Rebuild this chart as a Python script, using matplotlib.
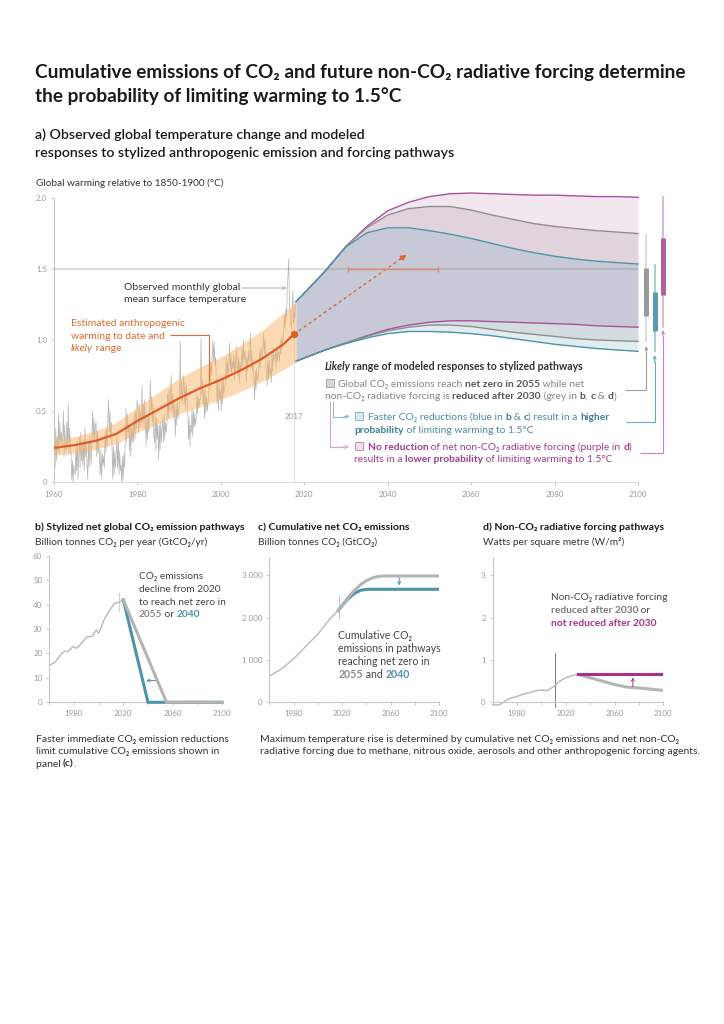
import numpy as np
import matplotlib
matplotlib.use('Agg')
import matplotlib.pyplot as plt
from matplotlib.lines import Line2D
from matplotlib.patches import Rectangle, FancyArrowPatch

# ---------------------------------------------------------------- data
# observed global mean surface temperature, six samples per year (1960-2017)
obs_values = [
    0.45, 0.10, 0.38, 0.15, 0.32, 0.22,   # 1960
    0.48, 0.20, 0.42, 0.28, 0.35, 0.25,
    0.30, 0.50, 0.18, 0.40, 0.25, 0.22,
    0.42, 0.25, 0.55, 0.20, 0.38, 0.28,
    0.20, 0.02, 0.15, -0.02, 0.12, 0.08,
    0.05, 0.25, 0.08, 0.30, 0.02, 0.18,   # 1965
    0.32, 0.10, 0.35, 0.15, 0.28, 0.12,
    0.30, 0.08, 0.38, 0.18, 0.26, 0.12,
    0.02, 0.28, 0.10, 0.32, 0.22, 0.12,
    0.28, 0.50, 0.30, 0.45, 0.28, 0.40,
    0.42, 0.18, 0.36, 0.20, 0.30, 0.15,   # 1970
    0.05, 0.22, 0.02, 0.20, 0.12, 0.18,
    0.10, 0.35, 0.20, 0.38, 0.25, 0.45,
    0.58, 0.35, 0.50, 0.30, 0.42, 0.25,
    0.02, 0.25, 0.05, 0.22, 0.10, 0.20,
    0.32, 0.10, 0.28, 0.05, 0.22, 0.08,   # 1975
    0.12, -0.03, 0.18, 0.02, 0.20, 0.10,
    0.30, 0.52, 0.28, 0.48, 0.35, 0.40,
    0.22, 0.42, 0.18, 0.38, 0.28, 0.40,
    0.28, 0.48, 0.30, 0.50, 0.38, 0.58,
    0.52, 0.35, 0.55, 0.38, 0.50, 0.40,   # 1980
    0.68, 0.42, 0.55, 0.38, 0.58, 0.40,
    0.25, 0.45, 0.30, 0.48, 0.35, 0.52,
    0.72, 0.50, 0.60, 0.42, 0.55, 0.32,
    0.28, 0.48, 0.22, 0.45, 0.30, 0.40,
    0.15, 0.40, 0.22, 0.42, 0.28, 0.38,   # 1985
    0.45, 0.28, 0.48, 0.30, 0.42, 0.35,
    0.42, 0.62, 0.45, 0.65, 0.50, 0.58,
    0.75, 0.50, 0.62, 0.45, 0.58, 0.48,
    0.32, 0.55, 0.40, 0.58, 0.45, 0.50,
    0.55, 0.99, 0.58, 0.72, 0.55, 0.68,   # 1990
    0.75, 0.55, 0.70, 0.52, 0.68, 0.58,
    0.50, 0.30, 0.45, 0.25, 0.40, 0.35,
    0.52, 0.32, 0.50, 0.38, 0.48, 0.40,
    0.45, 0.62, 0.48, 0.60, 0.52, 0.58,
    0.58, 1.01, 0.62, 0.72, 0.55, 0.65,   # 1995
    0.45, 0.65, 0.48, 0.60, 0.50, 0.55,
    0.62, 0.78, 0.65, 0.85, 0.75, 0.90,
    1.00, 0.85, 0.98, 0.82, 0.88, 0.72,
    0.55, 0.72, 0.50, 0.70, 0.58, 0.65,
    0.50, 0.75, 0.55, 0.72, 0.62, 0.68,   # 2000
    0.68, 0.88, 0.72, 0.85, 0.75, 0.82,
    0.98, 0.78, 0.90, 0.75, 0.85, 0.80,
    0.90, 0.72, 0.88, 0.78, 0.95, 0.85,
    0.75, 0.88, 0.70, 0.85, 0.78, 0.82,
    0.95, 0.82, 1.00, 0.85, 0.92, 0.88,   # 2005
    0.70, 0.88, 0.78, 0.92, 0.85, 0.90,
    1.05, 0.80, 0.92, 0.78, 0.82, 0.72,
    0.58, 0.78, 0.65, 0.80, 0.72, 0.75,
    0.78, 0.92, 0.80, 0.95, 0.85, 0.88,
    0.95, 1.05, 0.90, 1.00, 0.85, 0.78,   # 2010
    0.68, 0.85, 0.72, 0.88, 0.75, 0.80,
    0.70, 0.90, 0.78, 0.95, 0.85, 0.88,
    0.92, 0.80, 0.95, 0.85, 0.92, 0.90,
    0.85, 1.00, 0.90, 1.02, 0.95, 1.00,
    1.05, 1.18, 1.08, 1.22, 1.15, 1.35,   # 2015
    1.45, 1.57, 1.30, 1.18, 1.12, 1.08,
    1.22, 1.35, 1.12, 1.20, 1.15, 1.25,   # 2017
]
obs_years = 1960 + (np.arange(len(obs_values)) + 0.5) / 6

warm_years = [1960, 1965, 1970, 1975, 1980, 1985, 1990, 1995, 2000, 2005, 2010, 2015, 2018]
warm_mid = [0.24, 0.26, 0.29, 0.34, 0.43, 0.51, 0.59, 0.66, 0.72, 0.79, 0.87, 0.97, 1.05]
warm_hi = [0.30, 0.32, 0.36, 0.42, 0.53, 0.63, 0.73, 0.81, 0.88, 0.97, 1.07, 1.19, 1.27]
warm_lo = [0.19, 0.20, 0.23, 0.27, 0.35, 0.41, 0.48, 0.53, 0.58, 0.64, 0.71, 0.79, 0.85]
year_2017 = 2017.5
warm_2017 = 1.04

fut_years = [2018, 2020, 2025, 2030, 2035, 2040, 2045, 2050, 2055, 2060, 2065, 2070,
             2075, 2080, 2085, 2090, 2095, 2100]
purple_up = [1.27, 1.33, 1.485, 1.66, 1.80, 1.91, 1.97, 2.01, 2.03, 2.035, 2.03, 2.025,
             2.02, 2.02, 2.015, 2.01, 2.01, 2.005]
grey_up = [1.27, 1.33, 1.485, 1.66, 1.79, 1.88, 1.925, 1.94, 1.94, 1.915, 1.88, 1.85,
           1.82, 1.80, 1.785, 1.77, 1.76, 1.75]
blue_up = [1.27, 1.33, 1.485, 1.655, 1.755, 1.79, 1.79, 1.77, 1.745, 1.715, 1.68, 1.645,
           1.615, 1.59, 1.57, 1.555, 1.545, 1.535]
purple_lo = [0.85, 0.873, 0.93, 0.98, 1.03, 1.075, 1.105, 1.125, 1.135, 1.135, 1.13, 1.125,
             1.12, 1.115, 1.11, 1.10, 1.095, 1.09]
grey_lo = [0.85, 0.873, 0.93, 0.98, 1.025, 1.065, 1.09, 1.105, 1.105, 1.095, 1.075, 1.055,
           1.04, 1.025, 1.01, 1.0, 0.995, 0.99]
blue_lo = [0.85, 0.873, 0.93, 0.975, 1.015, 1.045, 1.06, 1.06, 1.055, 1.045, 1.03, 1.01,
           0.99, 0.97, 0.955, 0.94, 0.93, 0.92]

reach_15_years = [2030.4, 2052.1]
arrow_end = (2044.5, 1.60)

# 2100 ranges: (thin low, thin high, thick low, thick high)
bar_grey = (0.99, 1.75, 1.17, 1.505)
bar_blue = (0.92, 1.53, 1.063, 1.336)
bar_purple = (1.094, 2.01, 1.32, 1.72)

# panel b
hist_years = [1960, 1965, 1970, 1973, 1975, 1979, 1982, 1985, 1990, 1995, 1998, 2000,
              2005, 2010, 2013, 2017, 2020]
hist_emis = [15.0, 16.6, 20.0, 21.1, 20.7, 22.8, 22.1, 23.5, 26.6, 27.1, 29.6, 28.2,
             34.4, 38.5, 40.5, 41.1, 41.9]
grey_emis_years = [2020, 2055, 2100]
grey_emis = [41.9, 0, 0]
blue_emis_years = [2020, 2040, 2100]
blue_emis = [41.9, 0, 0]
emis_2017_range = [37.5, 44.8]

# panel c
cum_years = [1960, 1965, 1970, 1975, 1980, 1985, 1990, 1995, 2000, 2005, 2010, 2017]
cum_hist = [615, 700, 790, 905, 1030, 1170, 1320, 1465, 1615, 1790, 1975, 2175]
cum_grey_years = [2017, 2020, 2025, 2030, 2035, 2040, 2045, 2050, 2055, 2100]
cum_grey = [2175, 2290, 2480, 2640, 2775, 2875, 2940, 2975, 2985, 2985]
cum_blue_years = [2017, 2020, 2025, 2030, 2035, 2040, 2100]
cum_blue = [2175, 2290, 2450, 2570, 2645, 2670, 2670]
cum_2017_range = [1995, 2500]

# panel d
frc_years = [1960, 1965, 1968, 1970, 1975, 1980, 1985, 1990, 1995, 2000, 2005, 2010,
             2015, 2020, 2025, 2030]
frc_hist = [-0.06, -0.06, -0.02, 0.03, 0.10, 0.14, 0.19, 0.23, 0.27, 0.29, 0.28, 0.37,
            0.50, 0.58, 0.63, 0.66]
frc_grey_years = [2030, 2040, 2050, 2060, 2070, 2080, 2090, 2100]
frc_grey = [0.66, 0.58, 0.50, 0.42, 0.36, 0.34, 0.31, 0.28]
frc_purple_years = [2030, 2100]
frc_purple = [0.66, 0.66]
frc_2011_range = [-0.1, 1.17]

# ---------------------------------------------------------------- setup
W, H = 724, 1024
FONT = ['Lato', 'DejaVu Sans']
plt.rcParams['font.family'] = FONT
plt.rcParams['axes.linewidth'] = 0.8

fig = plt.figure(figsize=(W / 100, H / 100), dpi=100)
fig.patch.set_facecolor('white')
R = fig.canvas.get_renderer()

def fx(x):
    return x / W

def fy(y):
    return 1 - y / H

def ax_at(l, r, b, t):
    return fig.add_axes([l / W, 1 - b / H, (r - l) / W, (b - t) / H])

_bar = {}
def tw(s, size, weight='normal', style='normal'):
    t = fig.text(0, 0, '|' + s + '|', fontsize=size, fontweight=weight, fontstyle=style)
    w = t.get_window_extent(renderer=R).width
    t.remove()
    key = (size, weight, style)
    if key not in _bar:
        t = fig.text(0, 0, '||', fontsize=size, fontweight=weight, fontstyle=style)
        _bar[key] = t.get_window_extent(renderer=R).width
        t.remove()
    return w - _bar[key]

def seg_norm(seg):
    s = seg[0]
    color = seg[1] if len(seg) > 1 else '#333333'
    weight = seg[2] if len(seg) > 2 else 'normal'
    style = seg[3] if len(seg) > 3 else 'normal'
    return s, color, weight, style

def rich_width(segs, size):
    tot = 0
    for seg in segs:
        s, _, weight, style = seg_norm(seg)
        tot += tw(s, size, weight, style)
    return tot

def rich(x, yc, segs, size):
    base = yc + 0.36 * size * 100 / 72
    for seg in segs:
        s, color, weight, style = seg_norm(seg)
        fig.text(fx(x), fy(base), s, fontsize=size, color=color, fontweight=weight,
                 fontstyle=style, va='baseline', ha='left')
        x += tw(s, size, weight, style)
    return x

def fit(s, target, weight='normal', style='normal'):
    return 10 * target / tw(s, 10, weight, style)

def fline(xs, ys, color, lw=0.8):
    fig.add_artist(Line2D([fx(v) for v in xs], [fy(v) for v in ys], color=color, lw=lw,
                          transform=fig.transFigure, solid_capstyle='butt'))

def farrow(x0, y0, x1, y1, color, lw=0.8, ms=6):
    fig.add_artist(FancyArrowPatch((fx(x0), fy(y0)), (fx(x1), fy(y1)), transform=fig.transFigure,
                                   arrowstyle='->', mutation_scale=ms, color=color, lw=lw,
                                   shrinkA=0, shrinkB=0))

TICK_SIZE = 5.8
TICK_COL = '#9a9a9a'
SPINE_COL = '#c8c8c8'

def style_axis(ax):
    for s in ['top', 'right']:
        ax.spines[s].set_visible(False)
    for s in ['left', 'bottom']:
        ax.spines[s].set_color(SPINE_COL)
        ax.spines[s].set_linewidth(0.8)
    ax.tick_params(axis='both', which='both', colors=SPINE_COL, labelcolor=TICK_COL,
                   labelsize=TICK_SIZE, length=2.5, width=0.7, pad=2.5)
    ax.set_facecolor('none')

# ---------------------------------------------------------------- titles
DARK = '#1a1a1a'
t1 = 'Cumulative emissions of CO\u2082 and future non-CO\u2082 radiative forcing determine'
ts = fit(t1, 651, 'bold')
rich(35, 71, [(t1, DARK, 'bold')], ts)
rich(35, 95, [('the probability of limiting warming to 1.5°C', DARK, 'bold')], ts)

s2 = 'responses to stylized anthropogenic emission and forcing pathways'
ss = fit(s2, 423, 'semibold')
rich(35, 134, [('a) Observed global temperature change and modeled', DARK, 'semibold')], ss)
rich(35, 152, [(s2, DARK, 'semibold')], ss)

yl = 'Global warming relative to 1850-1900 (°C)'
rich(36, 182, [(yl, '#333333')], fit(yl, 186.7))

# ---------------------------------------------------------------- panel a
Y0, PXT = 482, 142
axA = ax_at(54, 638, Y0, Y0 - 2.06 * PXT)
axA.set_xlim(1960, 2100)
axA.set_ylim(0, 2.06)
style_axis(axA)
axA.spines['left'].set_bounds(0, 2.0)
axA.spines['bottom'].set_color('#dedede')
axA.set_yticks([0, 0.5, 1.0, 1.5, 2.0])
axA.set_yticklabels(['0', '0.5', '1.0', '1.5', '2.0'])
axA.set_xticks([1960, 1980, 2000, 2020, 2040, 2060, 2080, 2100])
axA.tick_params(axis='x', pad=4)

# projected ranges (layered regions)
axA.fill_between(fut_years, grey_up, purple_up, color='#f2e6ef', lw=0, zorder=1, clip_on=False)
axA.fill_between(fut_years, blue_up, grey_up, color='#e0d3dc', lw=0, zorder=1, clip_on=False)
axA.fill_between(fut_years, purple_lo, blue_up, color='#c7c9d6', lw=0, zorder=1, clip_on=False)
axA.fill_between(fut_years, grey_lo, purple_lo, color='#d3dcdf', lw=0, zorder=1, clip_on=False)
axA.fill_between(fut_years, blue_lo, grey_lo, color='#e1ecef', lw=0, zorder=1, clip_on=False)
PUR_L, GRY_L, BLU_L = '#aa4f9b', '#8e8e8e', '#4c93ab'
for ys, c in [(purple_up, PUR_L), (purple_lo, PUR_L), (grey_up, GRY_L), (grey_lo, GRY_L),
              (blue_up, BLU_L), (blue_lo, BLU_L)]:
    axA.plot(fut_years, ys, color=c, lw=1.0, zorder=2, clip_on=False)

# 2017 line
axA.plot([year_2017, year_2017], [0, 1.27], color='#e3e3e3', lw=0.8, zorder=0.5)
axA.text(year_2017, 0.46, '2017', ha='center', va='center', fontsize=TICK_SIZE, color=TICK_COL)

# observations
axA.plot(obs_years, obs_values, color='#b5b5b5', lw=0.5, zorder=2.5)
# anthropogenic warming
axA.fill_between(warm_years, warm_lo, warm_hi, color='#f8b466', alpha=0.5, lw=0, zorder=3)
axA.plot(warm_years[:-1] + [year_2017], warm_mid[:-1] + [warm_2017], color='#e05b28', lw=1.6,
         zorder=4, solid_capstyle='round')
axA.scatter([year_2017], [warm_2017], s=28, color='#e05b28', zorder=5, lw=0)

# 1.5 line
axA.axhline(1.5, color='#8c8c8c', alpha=0.3, lw=1.6, zorder=5)

# projected warming path
ORA = '#e0632d'
axA.plot([year_2017, arrow_end[0] - 0.6], [warm_2017, arrow_end[1] - 0.012], color=ORA, lw=1.0,
         ls=(0, (2.2, 2.2)), zorder=6)
axA.annotate('', xy=arrow_end, xytext=(arrow_end[0] - 1.5, arrow_end[1] - 0.031),
             arrowprops=dict(arrowstyle='-|>', color=ORA, lw=1.0, mutation_scale=8,
                             shrinkA=0, shrinkB=0), zorder=6)
axA.plot(reach_15_years, [1.5, 1.5], color='#e38a6a', lw=1.0, zorder=6)
axA.plot(reach_15_years, [1.5, 1.5], ls='none', marker='|', ms=5, mew=1.0, color='#e38a6a',
         zorder=6)

# ranges at 2100
for xb, rng, thin_c, thick_c in [(2102, bar_grey, '#d2d2d2', '#9b9b9b'),
                                 (2104, bar_blue, '#93c0cf', '#5a9cb2'),
                                 (2106, bar_purple, '#d9a2cd', '#b0609f')]:
    axA.plot([xb, xb], [rng[0], rng[1]], color=thin_c, lw=1.1, clip_on=False, zorder=3)
    axA.plot([xb, xb], [rng[2], rng[3]], color=thick_c, lw=3.6, clip_on=False, zorder=3,
             solid_capstyle='butt')

# annotations panel a
ann = 'Observed monthly global'
asz = fit(ann, 115.7)
rich(124.3, 286, [(ann, '#333333')], asz)
rich(124.3, 298, [('mean surface temperature', '#333333')], asz)
farrow(242, 288, 286.5, 288, '#aaaaaa', lw=0.7, ms=5)

ORT = '#e2692f'
e1 = 'Estimated anthropogenic'
esz = fit(e1, 114.7)
rich(71, 322.3, [(e1, ORT)], esz)
rich(71, 335, [('warming to date and', ORT)], esz)
rich(71, 347.7, [('likely', ORT, 'normal', 'italic'), (' range', ORT)], esz)
fline([170, 209.3, 209.3], [335, 335, 381], ORT, lw=0.8)

# legend block
LG = '#858585'
LGB = '#555555'
BL = '#4b8da6'
BLB = '#3b7f98'
PU = '#a33c8e'
head = [('Likely', '#333333', 'bold', 'italic'),
        (' range of modeled responses to stylized pathways', '#333333', 'bold')]
hsz = 10 * 259 / rich_width(head, 10)
rich(324.3, 366.7, head, hsz)
g1 = [('Global CO\u2082 emissions reach ', LG), ('net zero in 2055', LGB, 'bold'),
      (' while net', LG)]
lsz = 10 * 246.7 / rich_width(g1, 10)
fig.add_artist(Rectangle((fx(325.5), fy(387.3)), 8 / W, 8 / H, transform=fig.transFigure,
                         facecolor='#d6d6d6', edgecolor='#a6a6a6', lw=0.7))
rich(338.3, 383.3, g1, lsz)
rich(325, 395.5, [('non-CO\u2082 radiative forcing is ', LG), ('reduced after 2030', LGB, 'bold'),
                  (' (grey in ', LG), ('b', LGB, 'bold'), (', ', LG), ('c', LGB, 'bold'),
                  (' & ', LG), ('d', LGB, 'bold'), (')', LG)], lsz)

fig.add_artist(Rectangle((fx(355), fy(420.3)), 8 / W, 8 / H, transform=fig.transFigure,
                         facecolor='#dbe9ee', edgecolor='#86b6c6', lw=0.7))
rich(367.7, 416.3, [('Faster CO\u2082 reductions (blue in ', BL), ('b', BLB, 'bold'), (' & ', BL),
                    ('c', BLB, 'bold'), (') result in a ', BL), ('higher', BLB, 'bold')], lsz)
rich(354.3, 429, [('probability', BLB, 'bold'), (' of limiting warming to 1.5°C', BL)], lsz)

fig.add_artist(Rectangle((fx(355), fy(449.7)), 8 / W, 8 / H, transform=fig.transFigure,
                         facecolor='#f1deeb', edgecolor='#c98fbc', lw=0.7))
rich(367.7, 446, [('No reduction', PU, 'bold'),
                  (' of net non-CO\u2082 radiative forcing (purple in ', PU), ('d', PU, 'bold'),
                  (')', PU)], lsz)
rich(354.3, 458.7, [('results in a ', PU), ('lower probability', PU, 'bold'),
                    (' of limiting warming to 1.5°C', PU)], lsz)

# legend connectors
fline([333.3, 333.3, 345], [401, 416.5, 416.5], '#8fbfcf', lw=0.8)
farrow(344, 416.5, 350, 416.5, '#8fbfcf', lw=0.8, ms=5)
fline([330, 330, 343], [401, 447, 447], '#d9a3cc', lw=0.8)
farrow(342, 447, 349, 447, '#d9a3cc', lw=0.8, ms=5)

gx = 54 + (2102 - 1960) * 584 / 140
bx = 54 + (2104 - 1960) * 584 / 140
px_ = 54 + (2106 - 1960) * 584 / 140
fline([625, gx, gx], [389.5, 389.5, 352], '#a0a0a0', lw=0.8)
farrow(gx, 353, gx, 346, '#a0a0a0', lw=0.8, ms=5)
fline([626, bx, bx], [421.7, 421.7, 361], '#6aaabf', lw=0.8)
farrow(bx, 362, bx, 355, '#6aaabf', lw=0.8, ms=5)
fline([640, px_, px_], [453, 453, 336], '#cc7fbf', lw=0.8)
farrow(px_, 337, px_, 330, '#cc7fbf', lw=0.8, ms=5)

# ---------------------------------------------------------------- panels b, c, d
TXT = '#444444'
GRY = '#b4b4b4'
BLU = '#4d93ab'
PUR = '#a8308f'

pt = 'b) Stylized net global CO\u2082 emission pathways'
pts = fit(pt, 209, 'bold')
sub_b = 'Billion tonnes CO\u2082 per year (GtCO\u2082/yr)'
subs = fit(sub_b, 170.7)
for x, title, sub in [(35, pt, sub_b),
                      (258.3, 'c) Cumulative net CO\u2082 emissions', 'Billion tonnes CO\u2082 (GtCO\u2082)'),
                      (483.3, 'd) Non-CO\u2082 radiative forcing pathways', 'Watts per square metre (W/m²)')]:
    rich(x, 526.5, [(title, DARK, 'bold')], pts)
    rich(x, 541, [(sub, '#333333')], subs)

def small_axis(ax):
    style_axis(ax)
    ax.set_xlim(1960, 2100)
    ax.set_xticks([1980, 2020, 2060, 2100])
    ax.set_xticks([1960, 2000, 2040, 2080], minor=True)
    ax.tick_params(axis='x', which='both', length=2.2, pad=3)

# b
axB = ax_at(49.3, 222, 702.3, 555.7)
small_axis(axB)
axB.set_ylim(0, 60)
axB.set_yticks([0, 10, 20, 30, 40, 50, 60])
axB.plot(hist_years, hist_emis, color='#b8b8b8', lw=1.0, zorder=2)
axB.plot(blue_emis_years, blue_emis, color=BLU, lw=2.2, zorder=3, clip_on=False,
         solid_joinstyle='miter')
axB.plot(grey_emis_years, grey_emis, color=GRY, lw=2.2, zorder=4, clip_on=False,
         solid_joinstyle='miter')
axB.plot([2016.5, 2016.5], emis_2017_range, color='#d0d0d0', lw=0.8, zorder=1)
axB.annotate('', xy=(2038.5, 8.9), xytext=(2046.5, 8.9),
             arrowprops=dict(arrowstyle='->', color=BLU, lw=0.7, mutation_scale=5,
                             shrinkA=0, shrinkB=0))
bsz = fit('to reach net zero in', 86.3)
rich(139, 575.5, [('CO\u2082 emissions', TXT)], bsz)
rich(139, 588.2, [('decline from 2020', TXT)], bsz)
rich(139, 600.9, [('to reach net zero in', TXT)], bsz)
rich(139, 613.6, [('2055', '#8a8a8a', 'bold'), (' or ', TXT), ('2040', BLU, 'bold')], bsz)

# c
axC = ax_at(269.3, 439.3, 702.3, 556.7)
small_axis(axC)
axC.set_ylim(0, 3440)
axC.set_yticks([0, 1000, 2000, 3000])
axC.set_yticklabels(['0', '1 000', '2 000', '3 000'])
axC.plot(cum_years, cum_hist, color='#b8b8b8', lw=1.0, zorder=2)
axC.plot(cum_blue_years, cum_blue, color=BLU, lw=2.2, zorder=3)
axC.plot(cum_grey_years, cum_grey, color=GRY, lw=2.2, zorder=4)
axC.plot([2017, 2017], cum_2017_range, color='#c8c8c8', lw=0.8, zorder=1)
axC.annotate('', xy=(2067, 2760), xytext=(2067, 2960),
             arrowprops=dict(arrowstyle='->', color=BLU, lw=0.7, mutation_scale=5,
                             shrinkA=0, shrinkB=0))
csz = fit('emissions in pathways', 102.7)
rich(338.3, 635.7, [('Cumulative CO\u2082', TXT)], csz)
rich(338.3, 648.4, [('emissions in pathways', TXT)], csz)
rich(338.3, 661.1, [('reaching net zero in', TXT)], csz)
rich(338.3, 673.8, [('2055', '#8a8a8a', 'bold'), (' and ', TXT), ('2040', BLU, 'bold')], csz)

# d
axD = ax_at(492.7, 663.3, 702.3, 556.7)
small_axis(axD)
axD.set_ylim(0, 3.44)
axD.set_yticks([0, 1, 2, 3])
axD.plot(frc_years, frc_hist, color='#b8b8b8', lw=1.0, zorder=2, clip_on=False)
axD.plot(frc_grey_years, frc_grey, color=GRY, lw=2.2, zorder=3)
axD.plot(frc_purple_years, frc_purple, color=PUR, lw=2.2, zorder=4)
axD.plot([2011, 2011], frc_2011_range, color='#666666', lw=0.6, zorder=1, clip_on=False)
axD.annotate('', xy=(2075, 0.59), xytext=(2075, 0.37),
             arrowprops=dict(arrowstyle='->', color=PUR, lw=0.7, mutation_scale=5,
                             shrinkA=0, shrinkB=0))
dsz = fit('Non-CO\u2082 radiative forcing', 116)
rich(550.7, 596.7, [('Non-CO\u2082 radiative forcing', TXT)], dsz)
rich(550.7, 609.4, [('reduced after 2030', '#7a7a7a', 'bold'), (' or', TXT)], dsz)
rich(550.7, 622.1, [('not reduced after 2030', PUR, 'bold')], dsz)

# ---------------------------------------------------------------- footnotes
f2 = 'radiative forcing due to methane, nitrous oxide, aerosols and other anthropogenic forcing agents.'
fsz = fit(f2, 444)
rich(35.7, 738, [('Faster immediate CO\u2082 emission reductions', '#333333')], fsz)
rich(35.7, 750.5, [('limit cumulative CO\u2082 emissions shown in', '#333333')], fsz)
rich(35.7, 763, [('panel ', '#333333'), ('(c)', '#333333', 'bold'), ('.', '#333333')], fsz)
rich(260, 738, [('Maximum temperature rise is determined by cumulative net CO\u2082 emissions and net non-CO\u2082',
                 '#333333')], fsz)
rich(260, 750.5, [(f2, '#333333')], fsz)

fig.savefig('out.png', dpi=100, facecolor='white')
